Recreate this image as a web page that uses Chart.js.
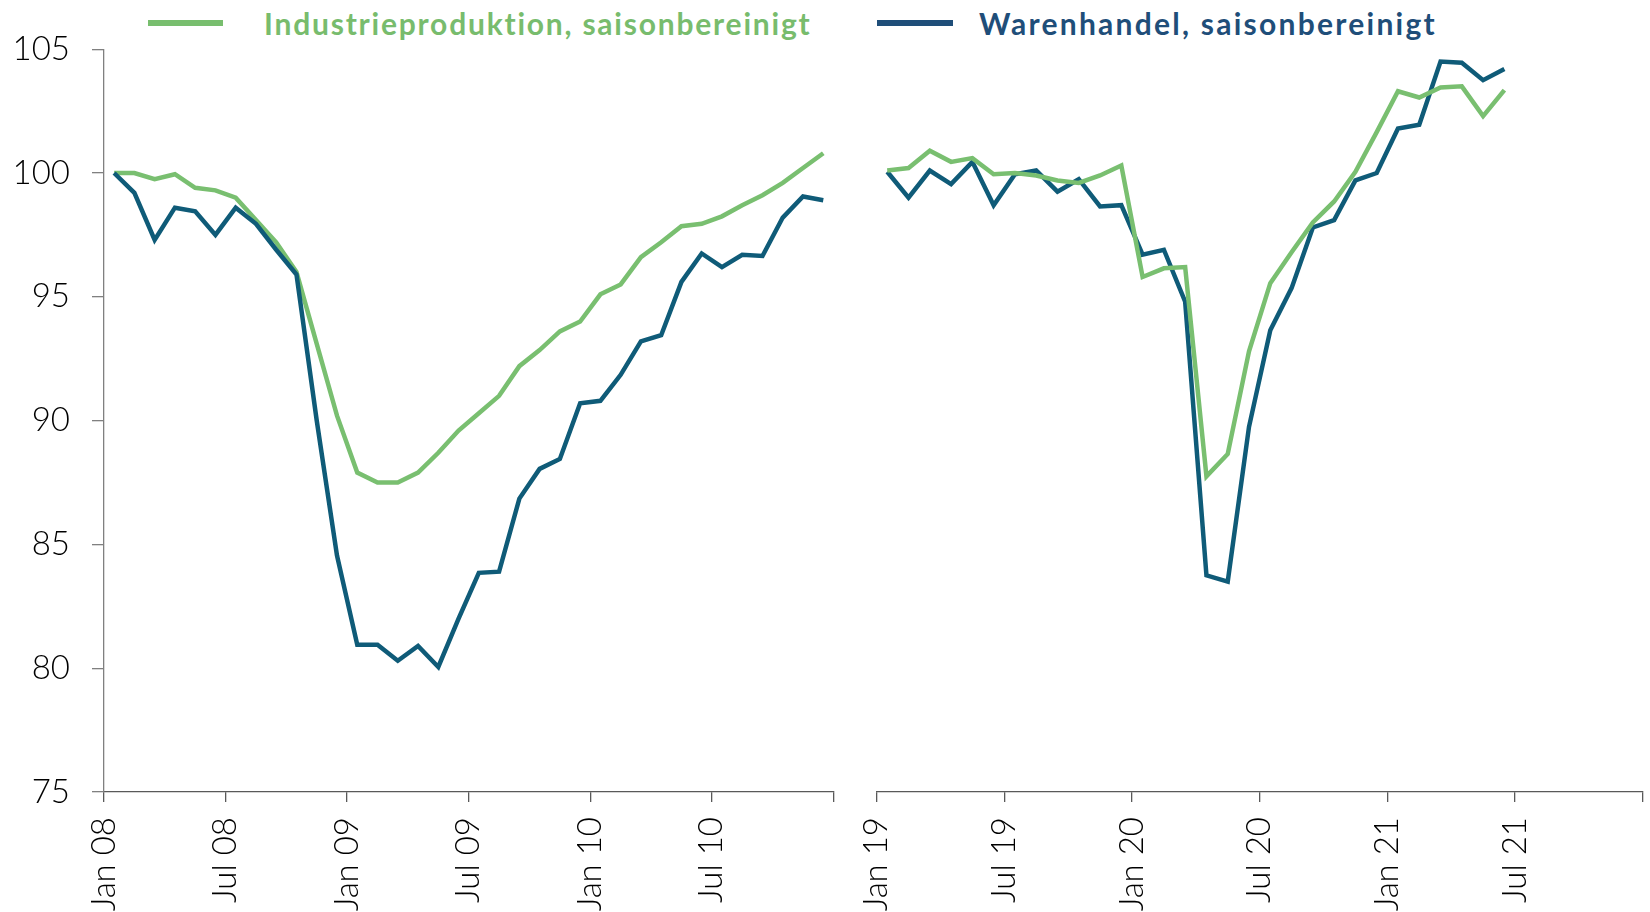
<!DOCTYPE html>
<html><head><meta charset="utf-8">
<script src="https://cdn.jsdelivr.net/npm/chart.js@4/dist/chart.umd.min.js"></script>
<style>
html,body{margin:0;padding:0;background:#fff;width:1650px;height:912px;overflow:hidden;font-family:Lato,"Open Sans",sans-serif}
canvas{position:absolute;top:0}
#c1{left:0}
#c2{left:850px}
.leg{position:absolute;top:8px;line-height:30px;font-weight:bold;font-size:30px;white-space:nowrap}
.sw{position:absolute;top:20px;height:6px}
</style></head><body>
<div class="sw" style="left:148px;width:75px;background:#78be6e"></div>
<div class="leg" id="lg1" data-w="548" style="left:264px;color:#78bc6d">Industrieproduktion, saisonbereinigt</div>
<div class="sw" style="left:877px;width:76px;background:#1f4e79"></div>
<div class="leg" id="lg2" data-w="458" style="left:979px;color:#1f4e79">Warenhandel, saisonbereinigt</div>
<canvas id="c1" width="860" height="912"></canvas>
<canvas id="c2" width="800" height="912"></canvas>
<script>
// Panel 1: Jan 2008 - Dec 2010 (monthly)
const ipLeft = [100.0, 100.0, 99.75, 99.95, 99.4, 99.3, 99.0, 98.1, 97.2, 96.0, 93.1, 90.2,
                87.9, 87.5, 87.5, 87.9, 88.7, 89.6, 90.3, 91.0, 92.2, 92.85, 93.6, 94.0,
                95.1, 95.5, 96.6, 97.2, 97.85, 97.95, 98.25, 98.7, 99.1, 99.6, 100.2, 100.8];
const whLeft = [100.0, 99.2, 97.3, 98.6, 98.45, 97.5, 98.6, 97.95, 96.9, 95.9, 90.0, 84.55,
                80.95, 80.95, 80.3, 80.9, 80.05, 82.0, 83.85, 83.9, 86.85, 88.05, 88.45, 90.7,
                90.8, 91.85, 93.2, 93.45, 95.6, 96.75, 96.2, 96.7, 96.65, 98.2, 99.05, 98.9];
// Panel 2: Jan 2019 - Jun 2021 (monthly), axis runs to Dec 2021
const ipRight = [100.1, 100.2, 100.9, 100.45, 100.6, 99.95, 100.0, 99.9, 99.7, 99.6, 99.9, 100.3,
                 95.8, 96.15, 96.2, 87.75, 88.65, 92.8, 95.55, 96.8, 98.0, 98.85, 100.05, 101.65,
                 103.3, 103.05, 103.45, 103.5, 102.3, 103.35];
const whRight = [100.05, 99.0, 100.1, 99.55, 100.45, 98.7, 99.95, 100.1, 99.25, 99.75, 98.65, 98.7,
                 96.7, 96.9, 94.8, 83.75, 83.5, 89.75, 93.65, 95.35, 97.8, 98.1, 99.7, 100.0,
                 101.8, 101.95, 104.5, 104.45, 103.75, 104.2];
const xTicksLeft = ['Jan 08', 'Jul 08', 'Jan 09', 'Jul 09', 'Jan 10', 'Jul 10', ''];
const xTicksRight = ['Jan 19', 'Jul 19', 'Jan 20', 'Jul 20', 'Jan 21', 'Jul 21', ''];
const monthsPerPanel = 36;
const yMin = 75, yMax = 105, yStep = 5;
const seriesNames = ['Industrieproduktion, saisonbereinigt', 'Warenhandel, saisonbereinigt'];

const GREEN = '#79bf70';
const BLUE = '#0f5b78';

// fit legend text width to the reference width via letter spacing
document.querySelectorAll('.leg').forEach(el => {
  const target = +el.dataset.w;
  const n = el.textContent.length;
  const w = el.getBoundingClientRect().width;
  el.style.letterSpacing = ((target - w) / n) + 'px';
});

function pts(arr) { return arr.map((v, i) => ({ x: i + 0.5, y: v })); }

function makeChart(id, ip, wh, ticks, showY, pad, greenOnTop) {
  return new Chart(document.getElementById(id), {
    type: 'line',
    data: { datasets: [
      { label: seriesNames[0], data: pts(ip), borderColor: GREEN, backgroundColor: GREEN,
        borderWidth: 4.5, pointRadius: 0, tension: 0, order: greenOnTop ? 0 : 1 },
      { label: seriesNames[1], data: pts(wh), borderColor: BLUE, backgroundColor: BLUE,
        borderWidth: 4.5, pointRadius: 0, tension: 0, order: greenOnTop ? 1 : 0 }
    ]},
    options: {
      responsive: false, animation: false, devicePixelRatio: 1,
      layout: { padding: pad },
      plugins: { legend: { display: false }, tooltip: { enabled: false } },
      scales: {
        x: {
          type: 'linear', min: 0, max: monthsPerPanel,
          afterFit(s) { s.height = 120; s.paddingLeft = 0; s.paddingRight = 0; },
          ticks: { stepSize: 6, autoSkip: false, minRotation: 90, maxRotation: 90, padding: 15,
                   color: '#000', font: { family: 'Lato', size: 33, weight: 300 },
                   callback: v => ticks[Math.round(v / 6)] },
          grid: { drawOnChartArea: false, drawTicks: true, tickLength: 10, color: '#595959', lineWidth: 1.3 },
          border: { display: true, color: '#595959', width: 1.3 }
        },
        y: {
          display: showY, min: yMin, max: yMax,
          afterFit(s) { if (showY) s.width = 104; },
          ticks: { stepSize: yStep, padding: 22, color: '#000', font: { family: 'Lato', size: 33, weight: 300 } },
          grid: { drawOnChartArea: false, drawTicks: true, tickLength: 12, color: '#808080', lineWidth: 1.3 },
          border: { display: true, color: '#808080', width: 1.3 }
        }
      }
    }
  });
}

makeChart('c1', ipLeft, whLeft, xTicksLeft, true, { top: 49.2, left: 0, right: 26.6, bottom: 0 }, false);
makeChart('c2', ipRight, whRight, xTicksRight, false, { top: 49.2, left: 26.6, right: 7.3, bottom: 0 }, true);
</script>
</body></html>
